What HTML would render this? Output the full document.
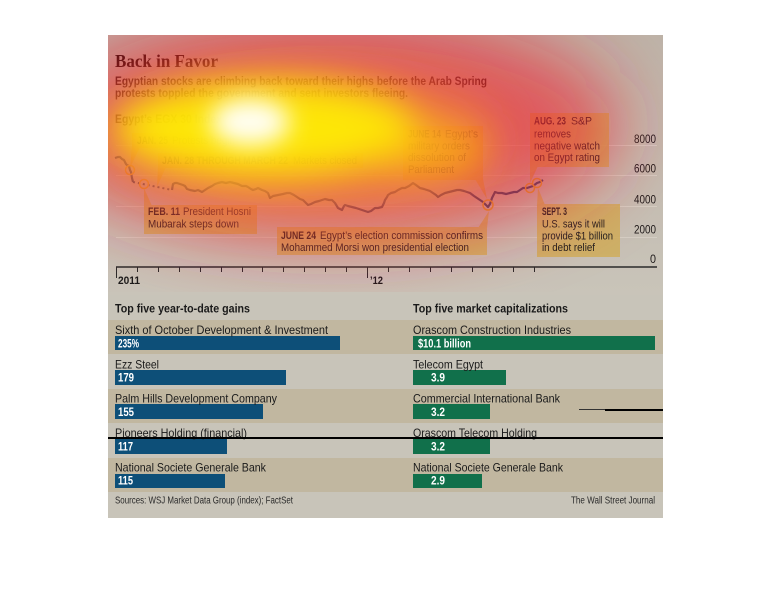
<!DOCTYPE html>
<html>
<head>
<meta charset="utf-8">
<style>
  html,body{margin:0;padding:0;background:#fff;}
  svg{display:block;}
  text{font-family:"Liberation Sans",sans-serif;}
</style>
</head>
<body>
<svg width="770" height="612" viewBox="0 0 770 612" xmlns="http://www.w3.org/2000/svg">
  <defs>
    <linearGradient id="bg" x1="0" y1="35" x2="0" y2="295" gradientUnits="userSpaceOnUse">
      <stop offset="0" stop-color="#bdb3a8"/>
      <stop offset="1" stop-color="#c9c4b9"/>
    </linearGradient>
    <clipPath id="hc"><rect x="108" y="35" width="555" height="257"/></clipPath>
    <filter id="b38" filterUnits="userSpaceOnUse" x="0" y="0" width="770" height="612"><feGaussianBlur stdDeviation="36"/></filter>
    <filter id="b26" filterUnits="userSpaceOnUse" x="0" y="0" width="770" height="612"><feGaussianBlur stdDeviation="24"/></filter>
    <filter id="b18" filterUnits="userSpaceOnUse" x="0" y="0" width="770" height="612"><feGaussianBlur stdDeviation="18"/></filter>
    <filter id="b12" filterUnits="userSpaceOnUse" x="0" y="0" width="770" height="612"><feGaussianBlur stdDeviation="12"/></filter>
  </defs>

  <rect width="770" height="612" fill="#fff"/>
  <!-- panel -->
  <rect x="108" y="35" width="555" height="483" fill="#c8c4b9"/>
  <rect x="108" y="35" width="555" height="260" fill="url(#bg)"/>

  <!-- gridlines -->
  <g stroke="#d8d2c8" stroke-width="1" opacity="0.8">
    <line x1="116" y1="145.5" x2="657" y2="145.5"/>
    <line x1="116" y1="175.5" x2="657" y2="175.5"/>
    <line x1="116" y1="206.5" x2="657" y2="206.5"/>
    <line x1="116" y1="237.5" x2="657" y2="237.5"/>
  </g>

  <!-- title texts -->
  <text x="115" y="67" style="font-family:'Liberation Serif',serif" font-weight="bold" font-size="18" textLength="103" lengthAdjust="spacingAndGlyphs" fill="#140806">Back in Favor</text>
  <text x="115" y="85" font-weight="bold" font-size="11.5" textLength="372" lengthAdjust="spacingAndGlyphs" fill="#1c1212">Egyptian stocks are climbing back toward their highs before the Arab Spring</text>
  <text x="115" y="97" font-weight="bold" font-size="11.5" textLength="293" lengthAdjust="spacingAndGlyphs" fill="#1c1212">protests toppled the government and sent investors fleeing.</text>
  <text x="115" y="123" font-weight="bold" font-size="11.5" textLength="107" lengthAdjust="spacingAndGlyphs" fill="#1c1212">Egypt’s EGX 30 Index</text>

  <!-- annotation boxes -->
  <g fill="#cfae5a" opacity="0.85">
    <rect x="132" y="133" width="108" height="15"/>
    <polygon points="132,147 140,147 130,168"/>
    <rect x="158" y="153" width="205" height="15"/>
    <polygon points="158,167 166,167 157,187"/>
    <rect x="144" y="205" width="113" height="29"/>
    <polygon points="144,206 152,206 144,188"/>
    <rect x="277" y="227" width="210" height="28"/>
    <polygon points="478,228 487,228 489,211"/>
    <rect x="403" y="126" width="80" height="54"/>
    <polygon points="475,179 483,179 487,199"/>
    <rect x="530" y="113" width="79" height="54"/>
    <polygon points="530,166 538,166 530,183"/>
    <rect x="537" y="204" width="83" height="53"/>
    <polygon points="537,205 545,205 538,188"/>
  </g>

  <!-- annotation texts -->
  <g font-size="11" fill="#1e1e1e">
    <text x="137" y="144" font-weight="bold" textLength="31" lengthAdjust="spacingAndGlyphs">JAN. 25</text>
    <text x="172" y="144" textLength="63" lengthAdjust="spacingAndGlyphs">Protests begin</text>
    <text x="162" y="164" font-weight="bold" textLength="126" lengthAdjust="spacingAndGlyphs">JAN. 28 THROUGH MARCH 22</text>
    <text x="293" y="164" textLength="64" lengthAdjust="spacingAndGlyphs">Markets closed</text>

    <text x="148" y="215" font-weight="bold" textLength="32" lengthAdjust="spacingAndGlyphs">FEB. 11</text>
    <text x="183" y="215" textLength="68" lengthAdjust="spacingAndGlyphs">President Hosni</text>
    <text x="148" y="227.5" textLength="91" lengthAdjust="spacingAndGlyphs">Mubarak steps down</text>

    <text x="281" y="239" font-weight="bold" textLength="35" lengthAdjust="spacingAndGlyphs">JUNE 24</text>
    <text x="320" y="239" textLength="163" lengthAdjust="spacingAndGlyphs">Egypt’s election commission confirms</text>
    <text x="281" y="251" textLength="188" lengthAdjust="spacingAndGlyphs">Mohammed Morsi won presidential election</text>

    <text x="408" y="137.5" font-weight="bold" textLength="33" lengthAdjust="spacingAndGlyphs">JUNE 14</text>
    <text x="445" y="137.5" textLength="33" lengthAdjust="spacingAndGlyphs">Egypt’s</text>
    <text x="408" y="149.5" textLength="62" lengthAdjust="spacingAndGlyphs">military orders</text>
    <text x="408" y="161" textLength="58" lengthAdjust="spacingAndGlyphs">dissolution of</text>
    <text x="408" y="173" textLength="46" lengthAdjust="spacingAndGlyphs">Parliament</text>

    <text x="534" y="124.5" font-weight="bold" textLength="32" lengthAdjust="spacingAndGlyphs">AUG. 23</text>
    <text x="571" y="124.5" textLength="21" lengthAdjust="spacingAndGlyphs">S&amp;P</text>
    <text x="534" y="137.5" textLength="37" lengthAdjust="spacingAndGlyphs">removes</text>
    <text x="534" y="149.5" textLength="66" lengthAdjust="spacingAndGlyphs">negative watch</text>
    <text x="534" y="161" textLength="66" lengthAdjust="spacingAndGlyphs">on Egypt rating</text>

    <text x="542" y="215" font-weight="bold" textLength="25" lengthAdjust="spacingAndGlyphs">SEPT. 3</text>
    <text x="542" y="227.5" textLength="63" lengthAdjust="spacingAndGlyphs">U.S. says it will</text>
    <text x="542" y="239.5" textLength="71" lengthAdjust="spacingAndGlyphs">provide $1 billion</text>
    <text x="542" y="251" textLength="53" lengthAdjust="spacingAndGlyphs">in debt relief</text>
  </g>

  <!-- y labels -->
  <g font-size="11.5" fill="#1e1a1a">
    <text x="634" y="143" textLength="22" lengthAdjust="spacingAndGlyphs">8000</text>
    <text x="634" y="172.5" textLength="22" lengthAdjust="spacingAndGlyphs">6000</text>
    <text x="634" y="203.5" textLength="22" lengthAdjust="spacingAndGlyphs">4000</text>
    <text x="634" y="233.5" textLength="22" lengthAdjust="spacingAndGlyphs">2000</text>
    <text x="650" y="263" textLength="6" lengthAdjust="spacingAndGlyphs">0</text>
  </g>

  <!-- x axis -->
  <line x1="116" y1="267" x2="657" y2="267" stroke="#2a2a2a" stroke-width="1.5"/>
  <g stroke="#2a2a2a" stroke-width="1">
    <line x1="116.5" y1="267" x2="116.5" y2="278"/>
    <line x1="367.5" y1="267" x2="367.5" y2="278"/>
    <line x1="137.5" y1="267" x2="137.5" y2="272"/>
    <line x1="158.5" y1="267" x2="158.5" y2="272"/>
    <line x1="179.5" y1="267" x2="179.5" y2="272"/>
    <line x1="200.5" y1="267" x2="200.5" y2="272"/>
    <line x1="221.5" y1="267" x2="221.5" y2="272"/>
    <line x1="242.5" y1="267" x2="242.5" y2="272"/>
    <line x1="262.5" y1="267" x2="262.5" y2="272"/>
    <line x1="283.5" y1="267" x2="283.5" y2="272"/>
    <line x1="304.5" y1="267" x2="304.5" y2="272"/>
    <line x1="325.5" y1="267" x2="325.5" y2="272"/>
    <line x1="346.5" y1="267" x2="346.5" y2="272"/>
    <line x1="388.5" y1="267" x2="388.5" y2="272"/>
    <line x1="409.5" y1="267" x2="409.5" y2="272"/>
    <line x1="430.5" y1="267" x2="430.5" y2="272"/>
    <line x1="451.5" y1="267" x2="451.5" y2="272"/>
    <line x1="472.5" y1="267" x2="472.5" y2="272"/>
    <line x1="492.5" y1="267" x2="492.5" y2="272"/>
    <line x1="513.5" y1="267" x2="513.5" y2="272"/>
    <line x1="534.5" y1="267" x2="534.5" y2="272"/>
  </g>
  <text x="118" y="284" font-weight="bold" font-size="11" fill="#1a1a1a" textLength="22" lengthAdjust="spacingAndGlyphs">2011</text>
  <text x="370" y="284" font-weight="bold" font-size="11" fill="#1a1a1a" textLength="13" lengthAdjust="spacingAndGlyphs">’12</text>

  <!-- index line -->
  <polyline fill="none" stroke="#28466c" stroke-width="2.2" stroke-linejoin="round"
    points="115,158 118,157 120,157 122,159 124,160 126,164 127,165 129,166 130,170 131,172 132,178 133,182"/>
  <line x1="133" y1="182" x2="172" y2="190" stroke="#28466c" stroke-width="2" stroke-dasharray="2 3"/>
  <polyline fill="none" stroke="#28466c" stroke-width="2.2" stroke-linejoin="round"
    points="172,190 173,184 175,183 177,183 180,184 183,185 185,186 187,189 190,190 195,191 198,190 202,192 205,190 208,188 212,186 215,184 218,183 222,182 226,183 230,182 234,183 238,184 242,186 246,186 248,187 251,189 253,190 256,189 258,188 262,190 265,191 268,193 270,198 273,196 278,195 283,194 287,193 290,193 294,195 297,197 300,199 303,200 305,202 308,205 311,204 315,202 319,201 322,200 325,199 329,200 332,200 335,203 338,208 340,209 342,210 344,206 345,205 348,206 352,207 356,208 359,209 362,210 365,211 368,212 371,211 375,208 378,208 382,207 384,203 385,200 387,197 388,195 391,193 395,192 398,190 402,188 405,188 409,186 413,183 416,185 420,188 424,189 427,190 430,191 433,193 436,195 438,197 441,195 445,193 449,192 453,191 457,190 460,190 464,191 467,192 470,193 474,196 477,198 480,200 483,202 485,204 487,206 488,207 490,204 492,198 494,194 495,192 498,193 502,193 506,194 510,193 514,192 517,192 520,190 523,188 527,188 530,187 533,186 537,183 540,182 543,180"/>
  <g fill="none" stroke="#d9a830" stroke-width="1.5">
    <circle cx="130" cy="170" r="4.5"/>
    <circle cx="144" cy="184" r="4.5"/>
    <circle cx="488" cy="205" r="5"/>
    <circle cx="530" cy="188" r="4.5"/>
    <circle cx="537" cy="183" r="4.5"/>
  </g>

  <!-- heatmap overlay -->
  <g clip-path="url(#hc)">
    <g filter="url(#b38)">
      <ellipse cx="330" cy="126" rx="290" ry="115" fill="rgb(240,40,45)" opacity="0.66"/>
    </g>
    <g filter="url(#b26)">
      <ellipse cx="300" cy="140" rx="195" ry="64" fill="rgb(248,145,40)" opacity="0.7"/>
    </g>
    <g filter="url(#b18)">
      <ellipse cx="266" cy="128" rx="152" ry="48" fill="rgb(255,245,0)" opacity="0.88"/>
      <ellipse cx="425" cy="150" rx="60" ry="26" fill="rgb(255,215,0)" opacity="0.45"/>
    </g>
    <g filter="url(#b12)">
      <ellipse cx="250" cy="122" rx="40" ry="24" fill="#ffffff" opacity="0.95"/>
    </g>
  </g>

  <!-- table bands -->
  <g fill="#c1b7a0">
    <rect x="108" y="320" width="555" height="34"/>
    <rect x="108" y="389" width="555" height="34"/>
    <rect x="108" y="458" width="555" height="34"/>
  </g>

  <!-- headers -->
  <text x="115" y="312.5" font-weight="bold" font-size="11.5" fill="#1a1a1a" textLength="135" lengthAdjust="spacingAndGlyphs">Top five year-to-date gains</text>
  <text x="413" y="312.5" font-weight="bold" font-size="11.5" fill="#1a1a1a" textLength="155" lengthAdjust="spacingAndGlyphs">Top five market capitalizations</text>

  <!-- bars -->
  <g fill="#0d4f78">
    <rect x="115" y="336" width="225" height="14"/>
    <rect x="115" y="370" width="171" height="15"/>
    <rect x="115" y="404" width="148" height="15"/>
    <rect x="115" y="439" width="112" height="15"/>
    <rect x="115" y="474" width="110" height="14"/>
  </g>
  <g fill="#11704b">
    <rect x="413" y="336" width="242" height="14"/>
    <rect x="413" y="370" width="93" height="15"/>
    <rect x="413" y="404" width="77" height="15"/>
    <rect x="413" y="439" width="77" height="15"/>
    <rect x="413" y="474" width="69" height="14"/>
  </g>

  <!-- row labels -->
  <g font-size="12" fill="#1a1a1a">
    <text x="115" y="334" textLength="213" lengthAdjust="spacingAndGlyphs">Sixth of October Development &amp; Investment</text>
    <text x="115" y="368.5" textLength="44" lengthAdjust="spacingAndGlyphs">Ezz Steel</text>
    <text x="115" y="402.5" textLength="162" lengthAdjust="spacingAndGlyphs">Palm Hills Development Company</text>
    <text x="115" y="437" textLength="132" lengthAdjust="spacingAndGlyphs">Pioneers Holding (financial)</text>
    <text x="115" y="471.5" textLength="151" lengthAdjust="spacingAndGlyphs">National Societe Generale Bank</text>

    <text x="413" y="334" textLength="158" lengthAdjust="spacingAndGlyphs">Orascom Construction Industries</text>
    <text x="413" y="368.5" textLength="70" lengthAdjust="spacingAndGlyphs">Telecom Egypt</text>
    <text x="413" y="402.5" textLength="147" lengthAdjust="spacingAndGlyphs">Commercial International Bank</text>
    <text x="413" y="437" textLength="124" lengthAdjust="spacingAndGlyphs">Orascom Telecom Holding</text>
    <text x="413" y="471.5" textLength="150" lengthAdjust="spacingAndGlyphs">National Societe Generale Bank</text>
  </g>

  <!-- bar values -->
  <g font-size="11.5" font-weight="bold" fill="#ffffff">
    <text x="118" y="347.5" textLength="21" lengthAdjust="spacingAndGlyphs">235%</text>
    <text x="118" y="381.5" textLength="16" lengthAdjust="spacingAndGlyphs">179</text>
    <text x="118" y="416" textLength="16" lengthAdjust="spacingAndGlyphs">155</text>
    <text x="118" y="450.5" textLength="15" lengthAdjust="spacingAndGlyphs">117</text>
    <text x="118" y="484.5" textLength="15" lengthAdjust="spacingAndGlyphs">115</text>

    <text x="418" y="347.5" textLength="53" lengthAdjust="spacingAndGlyphs">$10.1 billion</text>
    <text x="431" y="381.5" textLength="14" lengthAdjust="spacingAndGlyphs">3.9</text>
    <text x="431" y="416" textLength="14" lengthAdjust="spacingAndGlyphs">3.2</text>
    <text x="431" y="450.5" textLength="14" lengthAdjust="spacingAndGlyphs">3.2</text>
    <text x="431" y="484.5" textLength="14" lengthAdjust="spacingAndGlyphs">2.9</text>
  </g>

  <!-- footer -->
  <text x="115" y="503.5" font-size="10" fill="#2a2a2a" textLength="178" lengthAdjust="spacingAndGlyphs">Sources: WSJ Market Data Group (index); FactSet</text>
  <text x="571" y="503.5" font-size="10" fill="#2a2a2a" textLength="84" lengthAdjust="spacingAndGlyphs">The Wall Street Journal</text>

  <!-- stray black lines -->
  <rect x="108" y="437" width="555" height="2" fill="#000"/>
  <rect x="579" y="409" width="26" height="1" fill="#333"/>
  <rect x="605" y="409" width="58" height="2" fill="#000"/>
</svg>
</body>
</html>
